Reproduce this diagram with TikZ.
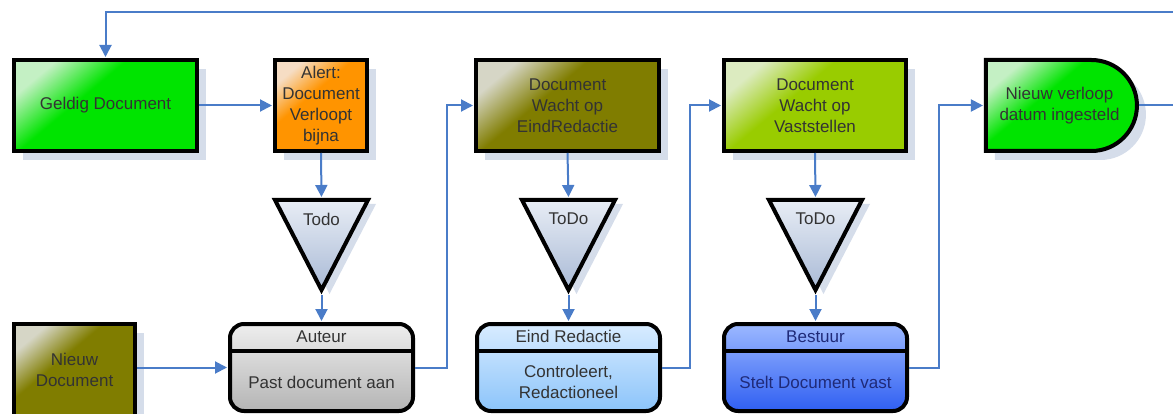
\documentclass[tikz,border=0pt]{standalone}
\usepackage{fontspec}
\setmainfont{Liberation Sans}
\usetikzlibrary{arrows.meta, shapes.geometric, shapes.misc, shadows}

\definecolor{lijnblauw}{HTML}{4A7CC8}
\definecolor{schaduw}{HTML}{D5DDEA}
\definecolor{tekstgrijs}{HTML}{333333}
\definecolor{groen}{HTML}{00E400}
\definecolor{groenlicht}{HTML}{C4F0C4}
\definecolor{oranje}{HTML}{FF9400}
\definecolor{oranjelicht}{HTML}{F6DDC4}
\definecolor{olijf}{HTML}{807D00}
\definecolor{olijflicht}{HTML}{D6D6C6}
\definecolor{geelgroen}{HTML}{99CC00}
\definecolor{geelgroenlicht}{HTML}{DCEBC0}
\definecolor{todolicht}{HTML}{E8EDF5}
\definecolor{tododonker}{HTML}{A9BAD6}
\definecolor{grijslicht}{HTML}{EEEEEE}
\definecolor{grijs}{HTML}{B4B4B4}
\definecolor{lichtblauwlicht}{HTML}{D8ECFF}
\definecolor{lichtblauw}{HTML}{8CC4FA}
\definecolor{blauwlicht}{HTML}{9CB8FF}
\definecolor{blauw}{HTML}{2F5FF2}
\definecolor{donkerblauw}{HTML}{1F2A78}

% lichte hoek linksboven, rest effen
\colorlet{hoeklicht}{white}
\colorlet{hoekbasis}{white}
\pgfdeclareverticalshading[hoeklicht,hoekbasis]{hoek}{100bp}{%
  color(0bp)=(hoekbasis); color(58bp)=(hoekbasis);
  color(75bp)=(hoeklicht); color(100bp)=(hoeklicht)}

\begin{document}
\begin{tikzpicture}[x=1pt, y=-1pt,
    tekst/.style={font=\fontsize{17}{21}\selectfont, text=tekstgrijs, align=center},
    blok/.style={tekst, draw=black, line width=4pt, inner sep=0pt,
        drop shadow={shadow xshift=9pt, shadow yshift=-9pt, fill=schaduw, opacity=1}},
    kleur/.style 2 args={/utils/exec={\colorlet{hoeklicht}{#1}\colorlet{hoekbasis}{#2}},
        shading=hoek, shading angle=40},
    todo/.style={tekst, draw=black, line width=4pt, isosceles triangle,
        isosceles triangle stretches, shape border rotate=270,
        minimum width=93, minimum height=90, inner sep=0pt, anchor=lower side,
        top color=todolicht, bottom color=tododonker,
        drop shadow={shadow xshift=8pt, shadow yshift=-4pt, fill=schaduw, opacity=1}},
    baan/.style={draw=black, line width=4pt, rounded corners=14pt,
        minimum width=183, minimum height=87, inner sep=0pt},
    kop/.style={tekst, minimum height=29, inner sep=0pt, anchor=north},
    link/.style={draw=lijnblauw, line width=2pt, -{Triangle[length=12pt, width=12pt]}, shorten >=1pt}]
    \useasboundingbox (0,0) rectangle (1173,414);

    % Bovenste rij: status van het document
    \node[blok, kleur={groenlicht}{groen}, minimum width=183, minimum height=91] (geldig) at (105.5,105.5) {Geldig Document};
    \node[blok, kleur={oranjelicht}{oranje}, minimum width=92, minimum height=91] (alert) at (321,105.5) {Alert:\\Document\\Verloopt\\bijna};
    \node[blok, kleur={olijflicht}{olijf}, minimum width=183, minimum height=91] (wachtred) at (567.5,105.5) {Document\\Wacht op\\EindRedactie};
    \node[blok, kleur={geelgroenlicht}{geelgroen}, minimum width=182, minimum height=91] (wachtvast) at (815,105.5) {Document\\Wacht op\\Vaststellen};
    \node[blok, kleur={groenlicht}{groen}, rounded rectangle, rounded rectangle left arc=none,
        minimum width=151, minimum height=91] (verloop) at (1059.5,105.5) {Nieuw verloop\\datum ingesteld};

    % Taken
    \node[todo] (todo1) at (321.5,198) {Todo};
    \node[todo] (todo2) at (568.5,198) {ToDo};
    \node[todo] (todo3) at (815.5,198) {ToDo};

    % Onderste rij: wie doet wat
    \node[blok, kleur={olijflicht}{olijf}, minimum width=121, minimum height=92] (nieuwdoc) at (74.5,370) {Nieuw\\Document};

    \node[baan, top color=grijslicht, bottom color=grijs] (auteur) at (321.5,367.5) {};
    \node[kop] (auteurkop) at (auteur.north) {Auteur};
    \draw[line width=4pt] (auteur.west |- auteurkop.south) -- (auteur.east |- auteurkop.south);
    \node[tekst] (auteurtaak) at (321.5,382) {Past document aan};

    \node[baan, top color=lichtblauwlicht, bottom color=lichtblauw] (redactie) at (568.5,367.5) {};
    \node[kop] (redactiekop) at (redactie.north) {Eind Redactie};
    \draw[line width=4pt] (redactie.west |- redactiekop.south) -- (redactie.east |- redactiekop.south);
    \node[tekst] (redactietaak) at (568.5,382) {Controleert,\\Redactioneel};

    \node[baan, top color=blauwlicht, bottom color=blauw] (bestuur) at (815.5,367.5) {};
    \node[kop, text=donkerblauw] (bestuurkop) at (bestuur.north) {Bestuur};
    \draw[line width=4pt] (bestuur.west |- bestuurkop.south) -- (bestuur.east |- bestuurkop.south);
    \node[tekst, text=donkerblauw] (bestuurtaak) at (815.5,382) {Stelt Document vast};

    % Verbindingen
    \coordinate (terug) at (1190,12);
    \draw[link] (verloop.east) -| (terug) -| (geldig.north);
    \draw[link] (geldig.east) -- (alert.west);
    \draw[link] (alert.south) -- (todo1.lower side);
    \draw[link] (todo1.apex) -- (auteur.north);
    \draw[link] (nieuwdoc.east |- auteur.west) -- (auteur.west);
    \draw[link] (auteur.east) -- ++(32,0) |- (wachtred.west);
    \draw[link] (wachtred.south) -- (todo2.lower side);
    \draw[link] (todo2.apex) -- (redactie.north);
    \draw[link] (redactie.east) -- ++(28,0) |- (wachtvast.west);
    \draw[link] (wachtvast.south) -- (todo3.lower side);
    \draw[link] (todo3.apex) -- (bestuur.north);
    \draw[link] (bestuur.east) -- ++(30,0) |- (verloop.west);
\end{tikzpicture}
\end{document}
